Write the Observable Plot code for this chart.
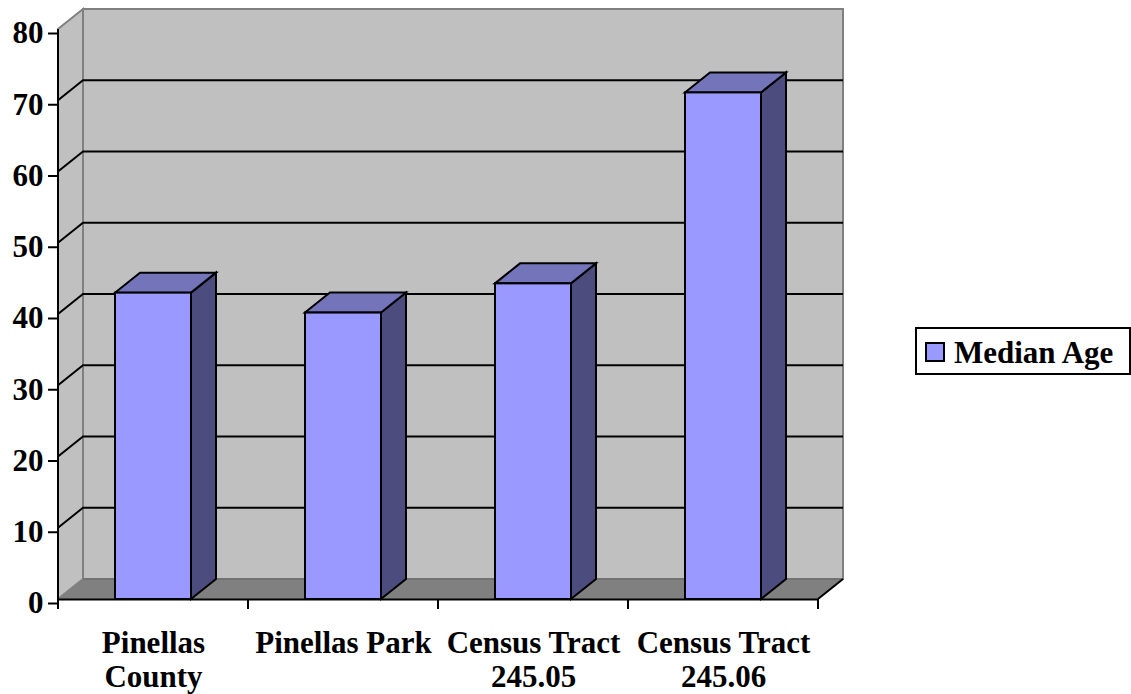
<!DOCTYPE html>
<html>
<head>
<meta charset="utf-8">
<script src="https://cdn.jsdelivr.net/npm/d3@7"></script>
<script src="https://cdn.jsdelivr.net/npm/@observablehq/plot@0.6"></script>
<style>
  body { margin: 0; background: #fff; }
</style>
</head>
<body>
<div id="chart"></div>
<script>
// ---- data ----
const categories = ["Pinellas County", "Pinellas Park", "Census Tract 245.05", "Census Tract 245.06"];
const tickLabels = ["Pinellas\nCounty", "Pinellas Park", "Census Tract\n245.05", "Census Tract\n245.06"];
const medianAge = [43.0, 40.2, 44.3, 71.1];
const yTicks = [0, 10, 20, 30, 40, 50, 60, 70, 80];
const seriesName = "Median Age";

const data = categories.map((c, i) => ({category: c, label: tickLabels[i], value: medianAge[i]}));

// ---- style ----
const DX = 25, DY = -20; // 3D depth offset (px)
const C = {front: "#9999ff", top: "#7474bb", side: "#4c4c7f", wall: "#c0c0c0", floor: "#808080", edge: "#808080"};
const FONT = "'Times New Roman', 'Liberation Serif', serif";

const poly = pts => "M" + pts.map(p => p.join(",")).join("L") + "Z";
const path = pts => "M" + pts.map(p => p.join(",")).join("L");

function bandInfo(x) {
  const bw = typeof x.bandwidth === "function" ? x.bandwidth() : x.bandwidth;
  const step = x(categories[1]) - x(categories[0]);
  return {bw, step};
}

function walls(index, scales, values, dims) {
  const {x, y} = scales;
  const x0 = dims.marginLeft, x1 = dims.width - dims.marginRight;
  const yb = y(yTicks[0]), yt = y(yTicks[yTicks.length - 1]);
  const g = d3.create("svg:g");
  // back wall
  g.append("path").attr("d", poly([[x0 + DX, yt + DY], [x1 + DX, yt + DY], [x1 + DX, yb + DY], [x0 + DX, yb + DY]]))
    .attr("fill", C.wall).attr("stroke", C.edge).attr("stroke-width", 2);
  // left wall
  g.append("path").attr("d", poly([[x0, yb], [x0, yt], [x0 + DX, yt + DY], [x0 + DX, yb + DY]]))
    .attr("fill", C.wall).attr("stroke", C.edge).attr("stroke-width", 2);
  // floor
  g.append("path").attr("d", poly([[x0, yb], [x1, yb], [x1 + DX, yb + DY], [x0 + DX, yb + DY]]))
    .attr("fill", C.floor);
  g.append("path").attr("d", path([[x0 + DX, yb + DY], [x1 + DX, yb + DY]]))
    .attr("fill", "none").attr("stroke", "#6e6e6e").attr("stroke-width", 1.5);
  // floor right edge
  g.append("path").attr("d", path([[x1, yb], [x1 + DX, yb + DY]]))
    .attr("fill", "none").attr("stroke", "black").attr("stroke-width", 2);
  // gridlines
  for (const v of yTicks.slice(1, -1)) {
    const yv = y(v);
    g.append("path").attr("d", path([[x0, yv], [x0 + DX, yv + DY], [x1 + DX, yv + DY]]))
      .attr("fill", "none").attr("stroke", "black").attr("stroke-width", 2);
  }
  // category boundary ticks
  const {bw, step} = bandInfo(x);
  const bounds = categories.map(c => x(c) - (step - bw) / 2);
  bounds.push(x(categories[categories.length - 1]) + bw + (step - bw) / 2);
  for (const bx of bounds) {
    g.append("line").attr("x1", bx).attr("x2", bx).attr("y1", yb).attr("y2", yb + 10)
      .attr("stroke", "black").attr("stroke-width", 2);
  }
  // front y axis line
  g.append("line").attr("x1", x0).attr("x2", x0).attr("y1", yt).attr("y2", yb + 1)
    .attr("stroke", "black").attr("stroke-width", 2);
  return g.node();
}

function bars3d(index, scales, values, dims) {
  const {x, y} = scales;
  const {bw} = bandInfo(x);
  const yb = y(0);
  const g = d3.create("svg:g").attr("stroke", "black").attr("stroke-width", 2).attr("stroke-linejoin", "miter");
  for (const d of data) {
    const xl = x(d.category), xr = xl + bw, yv = y(d.value);
    g.append("path").attr("d", poly([[xr, yv], [xr + DX, yv + DY], [xr + DX, yb + DY], [xr, yb]])).attr("fill", C.side);
    g.append("path").attr("d", poly([[xl, yv], [xr, yv], [xr + DX, yv + DY], [xl + DX, yv + DY]])).attr("fill", C.top);
  }
  return g.node();
}

function legend(index, scales, values, dims) {
  const g = d3.create("svg:g");
  g.append("rect").attr("x", 916).attr("y", 328).attr("width", 214).attr("height", 46)
    .attr("fill", "white").attr("stroke", "black").attr("stroke-width", 2);
  g.append("rect").attr("x", 926).attr("y", 343).attr("width", 18).attr("height", 18)
    .attr("fill", C.front).attr("stroke", "black").attr("stroke-width", 2);
  g.append("text").attr("x", 954).attr("y", 363).attr("fill", "black")
    .attr("text-anchor", "start").text(seriesName);
  return g.node();
}

const chart = Plot.plot({
  width: 1131,
  height: 694,
  marginLeft: 58,
  marginRight: 313,
  marginTop: 29,
  marginBottom: 95,
  style: {fontFamily: FONT, fontSize: "31px", fontWeight: "bold", background: "white", color: "black", overflow: "visible"},
  x: {domain: categories, paddingInner: 0.6, paddingOuter: 0.3, axis: null},
  y: {domain: [0, 80]},
  marks: [
    walls,
    bars3d,
    Plot.barY(data, {x: "category", y: "value", fill: C.front, stroke: "black", strokeWidth: 2, inset: 0}),
    Plot.ruleY([0], {stroke: "black", strokeWidth: 2}),
    Plot.axisY(yTicks, {tickSize: 10, tickPadding: 5, dy: 4, strokeWidth: 2, label: null}),
    Plot.text(data, {x: "category", text: "label", frameAnchor: "bottom", dy: 29.5, lineAnchor: "top", lineHeight: 1.1, fill: "black"}),
    legend
  ]
});
document.getElementById("chart").append(chart);
</script>
</body>
</html>
